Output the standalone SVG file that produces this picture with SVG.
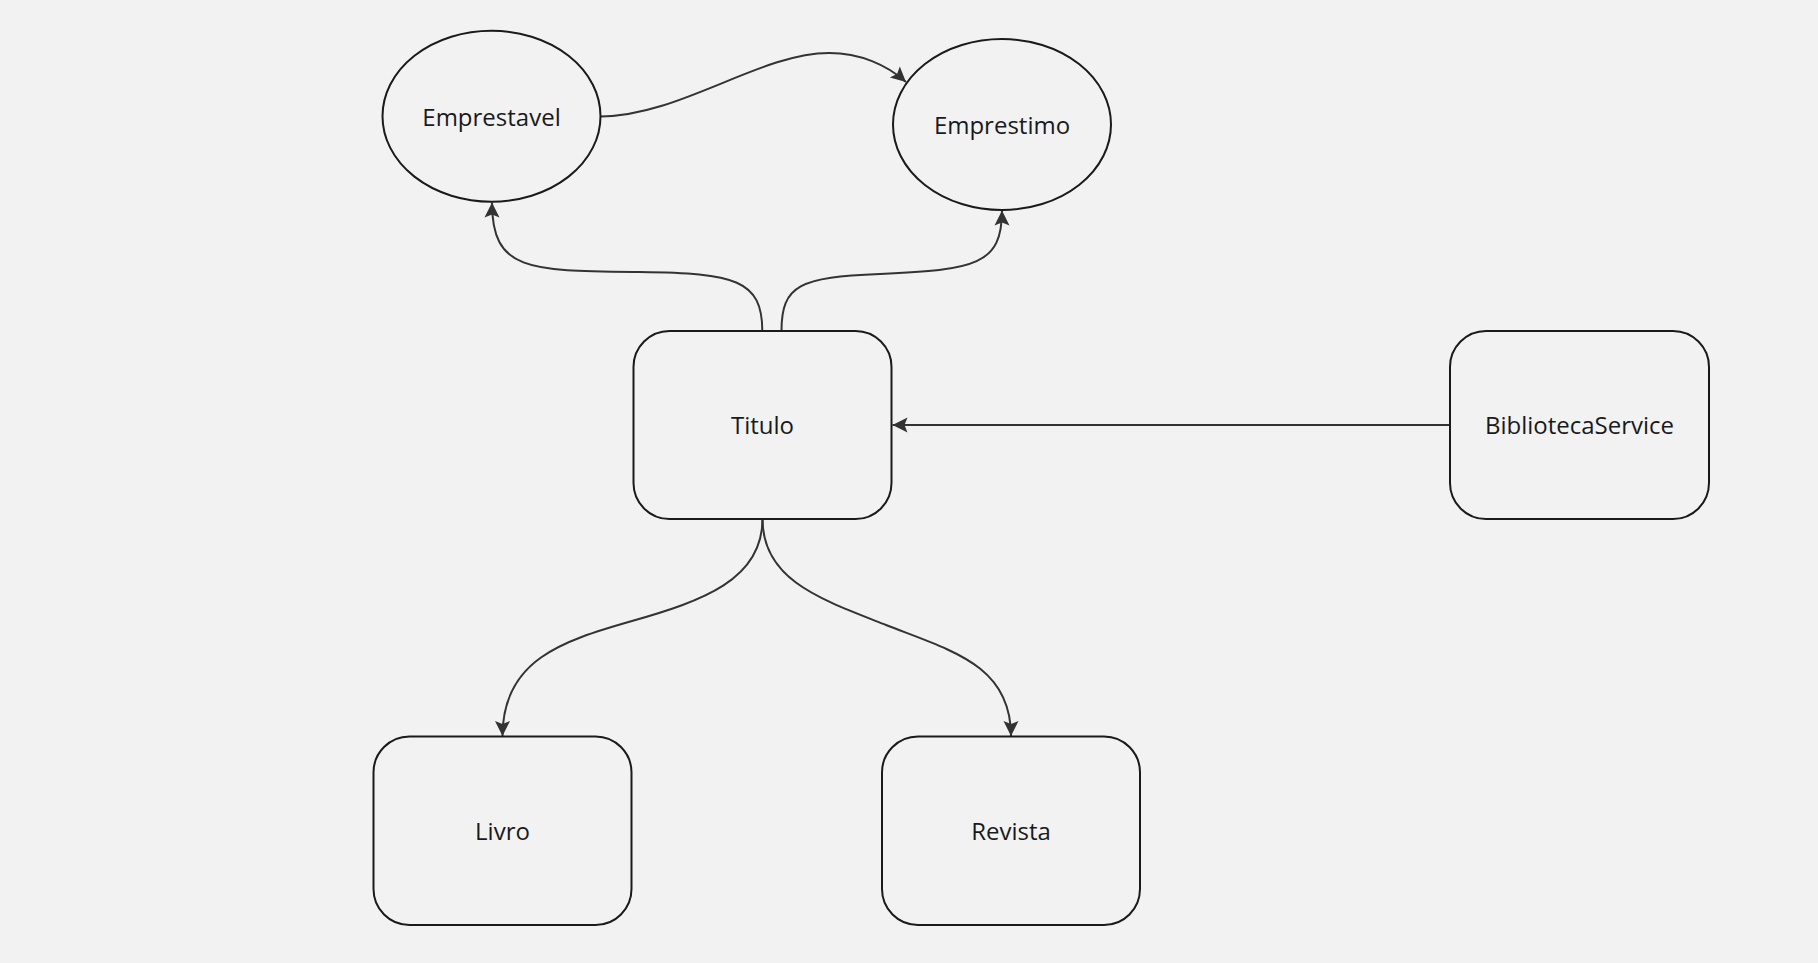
<svg xmlns="http://www.w3.org/2000/svg" width="1818" height="963" viewBox="0 0 1818 963">
<style>
.node{fill:#f2f2f2;stroke:#1a1a1a;stroke-width:2}
.lbl{font-family:"Open Sans","Noto Sans",sans-serif;font-size:24px;fill:#1a1a1a;text-anchor:middle}
.edge{fill:none;stroke:#333333;stroke-width:2}
</style>
<defs>
<marker id="arr" markerUnits="userSpaceOnUse" markerWidth="18" markerHeight="18" viewBox="0 0 18 18" refX="16" refY="9" orient="auto">
<path d="M1,1.5 L16,9 L1,16.5 L4,9 Z" fill="#333333"/>
</marker>
</defs>
<rect x="0" y="0" width="1818" height="963" fill="#f2f2f2"/>
<g id="connectors">
<path class="edge" d="M600.6,116.5 C680,116 760,53 829,53 C860,53 887,65 906,82" marker-end="url(#arr)"/>
<path class="edge" d="M762.3,331 C762.3,280 735,273 640,272 C530,271 492,272 492,202.5" marker-end="url(#arr)"/>
<path class="edge" d="M781.5,331 C781.5,285 800,277 880,274 C975,270 1002,265 1002,210.5" marker-end="url(#arr)"/>
<path class="edge" d="M1450,425 L892.5,425" marker-end="url(#arr)"/>
<path class="edge" d="M762.5,519 C762.5,580 702,601 632,621 C562,641 502.5,660 502.5,736" marker-end="url(#arr)"/>
<path class="edge" d="M762.5,519 C762.5,580 820,599 886,625 C952,651 1011,665 1011,736" marker-end="url(#arr)"/>
</g>
<g id="Emprestavel">
<ellipse class="node" cx="491.5" cy="116.2" rx="109" ry="85.5"/>
<text class="lbl" x="491.5" y="125.6">Emprestavel</text>
</g>
<g id="Emprestimo">
<ellipse class="node" cx="1002" cy="124.5" rx="109" ry="85.5"/>
<text class="lbl" x="1002" y="133.9">Emprestimo</text>
</g>
<g id="Titulo">
<rect class="node" x="633.5" y="331" width="258" height="188" rx="36" ry="36"/>
<text class="lbl" x="762.5" y="434.3">Titulo</text>
</g>
<g id="BibliotecaService">
<rect class="node" x="1450" y="331" width="259" height="188" rx="36" ry="36"/>
<text class="lbl" x="1579.5" y="434.3">BibliotecaService</text>
</g>
<g id="Livro">
<rect class="node" x="373.5" y="736.5" width="258" height="188.5" rx="36" ry="36"/>
<text class="lbl" x="502.5" y="840">Livro</text>
</g>
<g id="Revista">
<rect class="node" x="882" y="736.5" width="258" height="188.5" rx="36" ry="36"/>
<text class="lbl" x="1011" y="840">Revista</text>
</g>
</svg>
